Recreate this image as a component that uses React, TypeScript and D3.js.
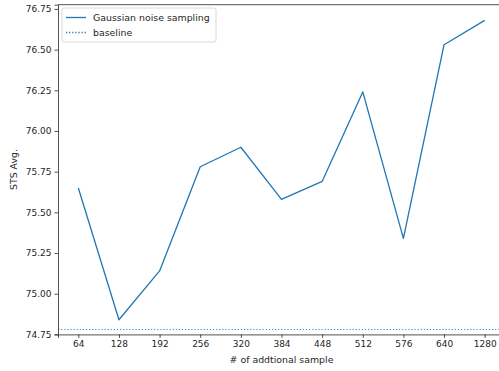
import React, { useEffect, useRef } from "react";
import * as d3 from "d3";

const categories = ["64", "128", "192", "256", "320", "384", "448", "512", "576", "640", "1280"];
const stsValues = [75.65, 74.84, 75.14, 75.78, 75.9, 75.58, 75.69, 76.24, 75.34, 76.53, 76.68];
const baselineValue = 74.78;
const yTicks = [74.75, 75.0, 75.25, 75.5, 75.75, 76.0, 76.25, 76.5, 76.75];

const App = () => {
  const svgRef = useRef<SVGSVGElement>(null);

  useEffect(() => {
    const root = d3.select(svgRef.current);
    root.selectAll("*").remove();

    const width = 499;
    const height = 371;
    const left = 58;
    const right = 505; // axes run past the right edge (cropped)
    const top = 4.7;
    const bottom = 334.4;
    const font = "DejaVu Sans, sans-serif";
    const blue = "#1f77b4";
    const ink = "#262626";

    root.attr("width", width).attr("height", height);

    const x = d3.scaleLinear().domain([-0.5, categories.length - 0.5]).range([left, right]);
    const y = d3.scaleLinear().domain([74.75, 76.776]).range([bottom, top]);

    const clip = root.append("defs").append("clipPath").attr("id", "plotclip");
    clip.append("rect").attr("x", left).attr("y", top).attr("width", right - left).attr("height", bottom - top);

    // baseline
    root
      .append("line")
      .attr("clip-path", "url(#plotclip)")
      .attr("x1", left)
      .attr("x2", right)
      .attr("y1", y(baselineValue))
      .attr("y2", y(baselineValue))
      .attr("stroke", blue)
      .attr("stroke-opacity", 0.85)
      .attr("stroke-width", 1.2)
      .attr("stroke-dasharray", "1.2,1.9");

    // main line
    const line = d3
      .line<number>()
      .x((_, i) => x(i))
      .y((d) => y(d));

    root
      .append("path")
      .datum(stsValues)
      .attr("d", line)
      .attr("fill", "none")
      .attr("stroke", blue)
      .attr("stroke-width", 1.3)
      .attr("stroke-linejoin", "round");

    // axes
    const xAxis = d3
      .axisBottom(x)
      .tickValues(d3.range(categories.length))
      .tickFormat((d) => categories[d as number])
      .tickSize(3.5)
      .tickPadding(3);

    const gx = root.append("g").attr("transform", `translate(0,${bottom})`).call(xAxis);
    gx.select(".domain").attr("stroke", ink).attr("stroke-width", 0.8);
    gx.selectAll(".tick line").attr("stroke", ink).attr("stroke-width", 0.8);
    gx.selectAll(".tick text").attr("fill", ink).style("font-family", font).style("font-size", "9px");

    const yAxis = d3
      .axisLeft(y)
      .tickValues(yTicks)
      .tickFormat(d3.format(".2f"))
      .tickSize(3.5)
      .tickPadding(3);

    const gy = root.append("g").attr("transform", `translate(${left},0)`).call(yAxis);
    gy.select(".domain").attr("stroke", ink).attr("stroke-width", 0.8);
    gy.selectAll(".tick line").attr("stroke", ink).attr("stroke-width", 0.8);
    gy.selectAll(".tick text").attr("fill", ink).style("font-family", font).style("font-size", "9px");

    // top spine
    root
      .append("line")
      .attr("x1", left)
      .attr("x2", right)
      .attr("y1", top)
      .attr("y2", top)
      .attr("stroke", ink)
      .attr("stroke-width", 0.8);

    // axis labels
    root
      .append("text")
      .attr("x", (left + right) / 2)
      .attr("y", 363)
      .attr("text-anchor", "middle")
      .attr("fill", ink)
      .style("font-family", font)
      .style("font-size", "9.4px")
      .text("# of addtional sample");

    root
      .append("text")
      .attr("transform", `translate(17,${(top + bottom) / 2}) rotate(-90)`)
      .attr("text-anchor", "middle")
      .attr("fill", ink)
      .style("font-family", font)
      .style("font-size", "9.4px")
      .text("STS Avg.");

    // legend
    const legend = root.append("g").attr("transform", `translate(62,8)`);
    legend
      .append("rect")
      .attr("width", 154)
      .attr("height", 34)
      .attr("rx", 2)
      .attr("fill", "white")
      .attr("fill-opacity", 0.8)
      .attr("stroke", "#d0d0d0")
      .attr("stroke-width", 0.8);

    const items = [
      { label: "Gaussian noise sampling", dash: null },
      { label: "baseline", dash: "1.2,1.9" },
    ];

    const entry = legend
      .selectAll(".entry")
      .data(items)
      .enter()
      .append("g")
      .attr("transform", (_, i) => `translate(0,${9.5 + i * 15})`);

    entry
      .append("line")
      .attr("x1", 4)
      .attr("x2", 24)
      .attr("stroke", blue)
      .attr("stroke-width", 1.3)
      .attr("stroke-dasharray", (d) => d.dash);

    entry
      .append("text")
      .attr("x", 31)
      .attr("y", 3.3)
      .attr("fill", ink)
      .style("font-family", font)
      .style("font-size", "9.4px")
      .text((d) => d.label);
  }, []);

  return (
    <svg
      ref={svgRef}
      style={{ position: "absolute", left: 0, top: 0, display: "block", background: "white" }}
    ></svg>
  );
};

export default App;
